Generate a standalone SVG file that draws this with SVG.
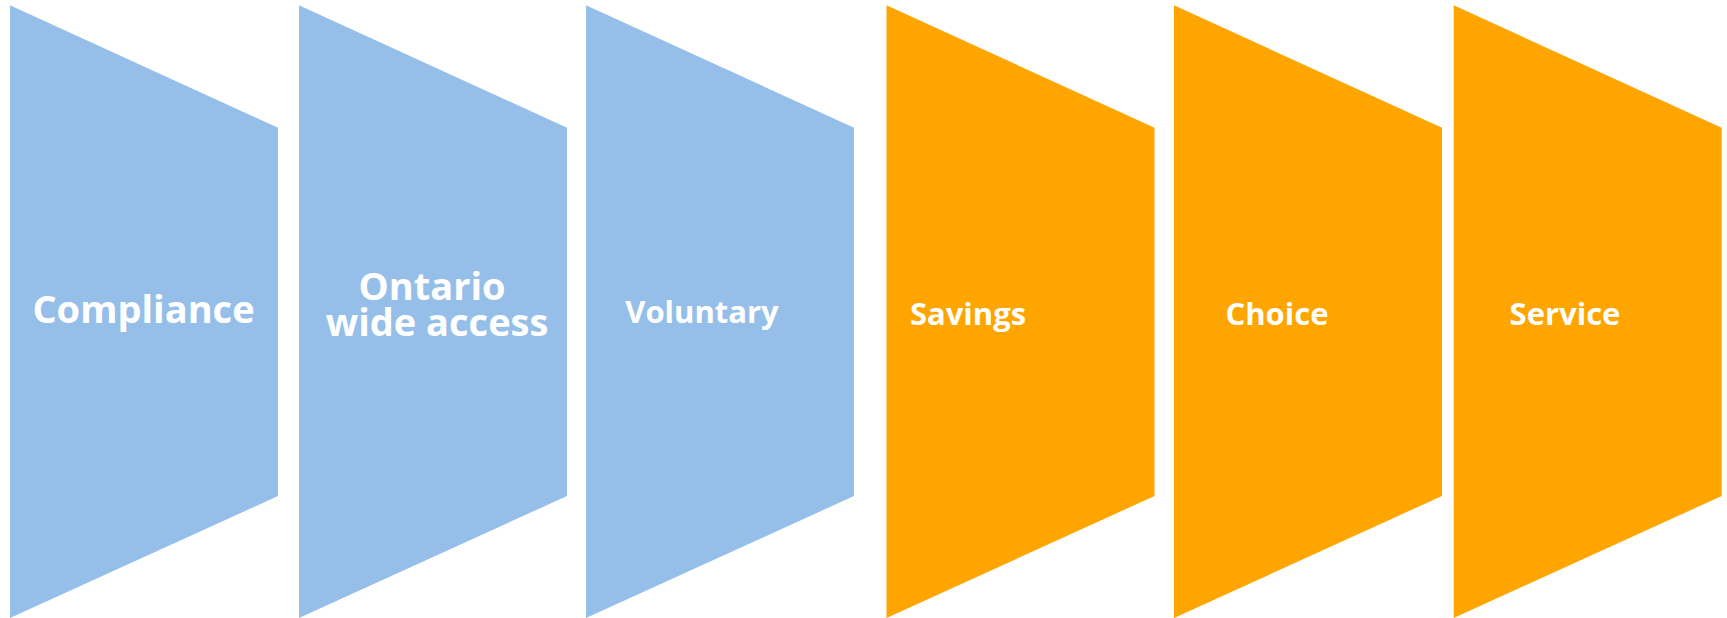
<svg xmlns="http://www.w3.org/2000/svg" width="1727" height="618" viewBox="0 0 1727 618">
  <style>
    .blue { fill: #95bfe8; }
    .orange { fill: #ffa500; }
    .label { font-family: "Open Sans", "Liberation Sans", sans-serif; font-weight: 700; font-size: 38px; fill: #ffffff; text-anchor: middle; }
    .small { font-size: 31px; }
  </style>
  <defs>
    <!-- tapered panel: tall left edge narrowing to the right -->
    <path id="panel" d="M0 5.3 L268 127.7 L268 496 L0 618 Z"/>
  </defs>
  <rect width="1727" height="618" fill="#ffffff"/>

  <g id="node-compliance">
    <use href="#panel" class="blue" transform="translate(10 0)"/>
    <text class="label" x="143.5" y="323">Compliance</text>
  </g>

  <g id="node-ontario-wide-access">
    <use href="#panel" class="blue" transform="translate(299 0)"/>
    <text class="label" x="432" y="300">Ontario</text>
    <text class="label" x="437" y="336">wide access</text>
  </g>

  <g id="node-voluntary">
    <use href="#panel" class="blue" transform="translate(586 0)"/>
    <text class="label small" x="702" y="323">Voluntary</text>
  </g>

  <g id="node-savings">
    <use href="#panel" class="orange" transform="translate(886.5 0)"/>
    <text class="label small" x="968" y="325">Savings</text>
  </g>

  <g id="node-choice">
    <use href="#panel" class="orange" transform="translate(1174 0)"/>
    <text class="label small" x="1277" y="325">Choice</text>
  </g>

  <g id="node-service">
    <use href="#panel" class="orange" transform="translate(1453.7 0)"/>
    <text class="label small" x="1565" y="325">Service</text>
  </g>

  <g id="connectors"></g>
</svg>
